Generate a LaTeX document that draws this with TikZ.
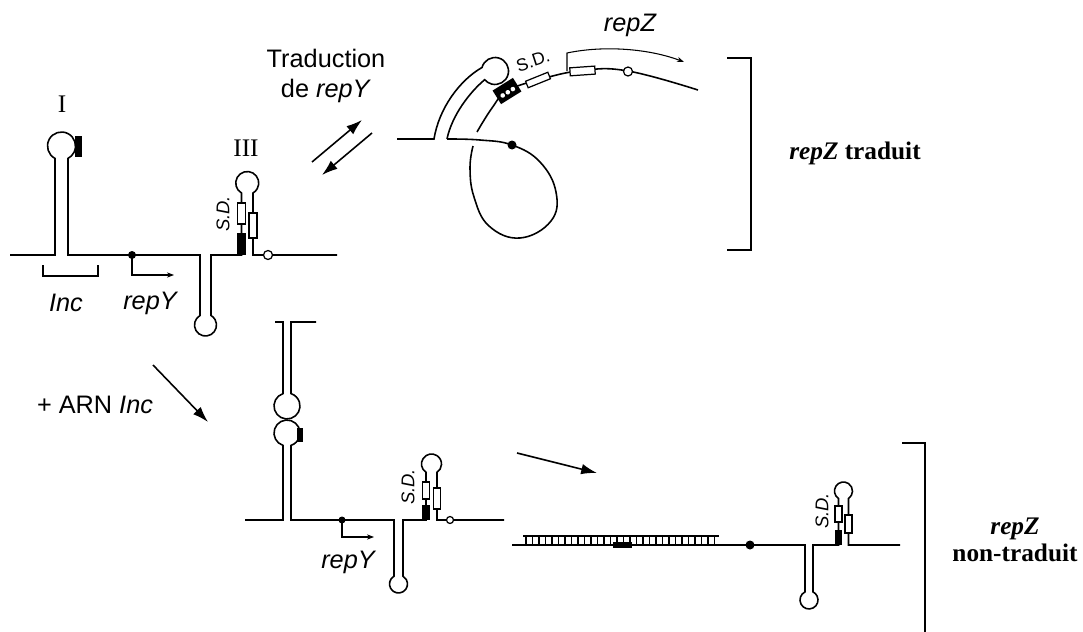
\documentclass[tikz,border=0pt]{standalone}
\usepackage{fontspec}
\setmainfont{Liberation Serif}
\setsansfont{Liberation Sans}
\usetikzlibrary{arrows.meta}

\begin{document}
\begin{tikzpicture}[x=0.02cm,y=-0.02cm,
  strand/.style={line width=0.9pt},
  bracket/.style={line width=1.3pt},
  bigarrow/.style={line width=0.9pt,-{Latex[length=9pt,width=6pt]}},
  startarrow/.style={line width=0.6pt,-{Stealth[length=4pt,width=3pt]}},
  lbl/.style={font=\sffamily\fontsize{14.4}{17}\selectfont},
  gene/.style={font=\sffamily\itshape\fontsize{14.4}{17}\selectfont},
  sd/.style={font=\sffamily\itshape\fontsize{10.5}{12}\selectfont},
  roman/.style={font=\fontsize{14.4}{17}\selectfont},
  result/.style={font=\bfseries\fontsize{14.4}{15}\selectfont,align=center},
  open/.style={fill=white,line width=0.7pt}]

\useasboundingbox (0,0) rectangle (1083,632);

% repY-repZ mRNA alone
\draw[strand] (10,255) -- (55,255) -- (55,158.4) arc (117.7:422.3:14) -- (68,255) -- (200,255)
  -- (200,315.5) arc (240:-60:11) -- (211,255) -- (241.5,255)
  -- (241.5,193) arc (120:420:11.5) -- (253,255) -- (337,255);
\fill (75,136) rectangle (82,157);
\fill (237,233) rectangle (246,255);
\draw[open] (237.5,203) rectangle (245.5,224);
\draw[open] (249,213) rectangle (257,238);
\draw[open] (268,255) circle[radius=4.5];
\fill (132,255) circle[radius=4];
\draw[startarrow] (132,255) -- (132,275) -- (174,275);
\draw[line width=0.6pt] (43,265) -- (43,276) -- (98,276) -- (98,265);

\node[roman] (numI) at (62,104) {I};
\node[roman] (numIII) at (246,148) {III};
\node[gene] (inc) at (66,303) {Inc};
\node[gene] (repY) at (150,303) {repY};
\node[sd,rotate=90] (sdA) at (223,214) {S.D.};

% translation of repY
\coordinate (fwdA) at (312,162);
\coordinate (fwdB) at (362,120);
\coordinate (revA) at (372,133);
\coordinate (revB) at (322,175);
\draw[bigarrow] (fwdA) -- (fwdB);
\draw[bigarrow] (revA) -- (revB);
\node[lbl,align=center] (trad) at (326,76) {Traduction\\de \textit{repY}};

% pseudoknot, repZ open
\draw[strand] (397,139) -- (434,139) .. controls (439,108) and (460,80) .. (482,67.5)
  arc (195:500:13.5) .. controls (470,92) and (452,115) .. (447,139);
\draw[strand] plot[smooth,tension=0.7] coordinates {(447,139) (480,140) (512,145) (540,162)
  (556,192) (551,221) (520,238) (489,226) (474,197) (470,168) (473,146)};
\draw[strand] plot[smooth,tension=0.7] coordinates {(477,132) (492,108) (507,91) (538,80)
  (582,70.5) (628,71) (698,90)};
\begin{scope}[shift={(507,91)},rotate=32]
  \fill (-12,-8) rectangle (12,8);
  \foreach \k in {-6,0,6}
    \fill[white] (\k,1.5) circle[radius=2.3];
\end{scope}
\draw[open,rotate around={22:(538,80)}] (526,76.5) rectangle (550,83.5);
\draw[open,rotate around={4:(582,71)}] (570,67) rectangle (595,75);
\draw[open] (628,71.5) circle[radius=4.5];
\fill (512,145) circle[radius=4.5];
\coordinate (zstart) at (567,71);
\draw[startarrow] (zstart) -- (567,53) .. controls (605,45) and (650,49) .. (684,62);
\node[font=\sffamily\fontsize{10}{12}\selectfont,rotate=18,inner sep=1pt] (sdB) at (533,61) {S.D.};
\node[gene] (repZ) at (630,25) {repZ};

\draw[bracket] (727,58) -- (751,58) -- (751,250) -- (727,250);
\node[result] (transl) at (855,153) {\textit{repZ} traduit};

% Inc RNA binds loop I
\coordinate (incA) at (153,365);
\coordinate (incB) at (208,422);
\draw[bigarrow] (incA) -- (incB);
\node[lbl] (arn) at (95,405) {+ ARN \textit{Inc}};

\draw[strand] (275,322) -- (283,322) -- (283,393.6) arc (252.1:-72.1:13) -- (291,322) -- (316,322);
\draw[strand] (245,520) -- (283,520) -- (283,445.4) arc (107.9:432.1:13) -- (291,520) -- (394,520)
  -- (394,576.2) arc (240:-60:9) -- (403,520) -- (426,520)
  -- (426,472.35) arc (123.37:416.63:10) -- (437,520) -- (504,520);
\fill (297,428) rectangle (303,442);
\fill (422,505) rectangle (430,520);
\draw[open] (422.5,482) rectangle (429.5,499);
\draw[open] (433.5,488) rectangle (440.5,509);
\draw[open] (450,520) circle[radius=3.5];
\fill (342,520) circle[radius=3.5];
\draw[startarrow] (342,520) -- (342,537) -- (374,537);
\node[gene] (repYb) at (348,562) {repY};
\node[sd,rotate=90] (sdC) at (408,487) {S.D.};

% duplex Inc / repY, repZ closed
\coordinate (duoA) at (517,453);
\coordinate (duoB) at (597,473);
\draw[bigarrow] (duoA) -- (duoB);

\draw[strand] (512,545) -- (805,545) -- (805,591.9) arc (243.6:-63.6:9) -- (813,545) -- (838.5,545)
  -- (838.5,498.5) arc (123.75:416.25:9) -- (848.5,545) -- (900,545);
\draw[line width=0.7pt] (523,536) -- (719,536);
\foreach \k in {0,...,29}
  \draw[line width=0.6pt] ({526+6.5*\k},536) -- ({526+6.5*\k},545);
\fill (613,542) rectangle (632,548);
\fill (750,545) circle[radius=4.5];
\fill (835,530) rectangle (842,545);
\draw[open] (835,506) rectangle (842,522);
\draw[open] (845,515) rectangle (852,533);
\node[sd,rotate=90] (sdD) at (822,511) {S.D.};

\draw[bracket] (902,443) -- (925,443) -- (925,633);
\node[result] (untransl) at (1015,540) {\textit{repZ}\\non-traduit};

\end{tikzpicture}
\end{document}
